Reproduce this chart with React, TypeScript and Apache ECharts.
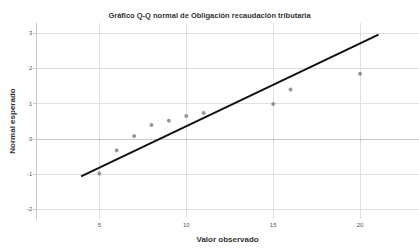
import React, { useEffect, useRef } from "react";
import * as echarts from "echarts";

const titleText = "Gráfico Q-Q normal de Obligación recaudación tributaria";
const xName = "Valor observado";
const yName = "Normal esperado";
const observed = [5, 6, 7, 8, 9, 10, 11, 15, 16, 20];
const expected = [-0.99, -0.33, 0.08, 0.39, 0.51, 0.65, 0.73, 0.99, 1.4, 1.85];
const lineX = [3.95, 21.06];
const lineY = [-1.07, 2.96];
const xTicks = [5, 10, 15, 20];
const yTicks = [-2, -1, 0, 1, 2, 3];

export default function App() {
  const ref = useRef<HTMLDivElement>(null);
  useEffect(() => {
    if (!ref.current) return;
    const chart = echarts.init(ref.current, undefined, { renderer: "svg" });
    const font = "Liberation Sans, Arial, sans-serif";
    chart.setOption({
      animation: false,
      title: {
        text: titleText,
        left: "center",
        top: 7,
        padding: 4,
        textStyle: { fontSize: 7.5, fontWeight: "bold", color: "#333", fontFamily: font },
      },
      grid: { left: 33, right: 0, top: 23, bottom: 23 },
      xAxis: {
        type: "value",
        min: 1.37,
        max: 23.39,
        name: xName,
        nameLocation: "middle",
        nameGap: 16,
        nameTextStyle: { fontSize: 8, fontWeight: "bold", color: "#333", fontFamily: font },
        axisLine: { show: true, lineStyle: { color: "#c8c8c8" } },
        axisTick: { show: true, customValues: xTicks, length: 3, lineStyle: { color: "#c8c8c8" } },
        axisLabel: { customValues: xTicks, fontSize: 6, color: "#555", margin: 3, fontFamily: font },
        splitLine: { show: true, lineStyle: { color: "#e0e0e0" } },
      },
      yAxis: {
        type: "value",
        min: -2.28,
        max: 3.29,
        name: yName,
        nameLocation: "middle",
        nameGap: 18,
        nameTextStyle: { fontSize: 8, fontWeight: "bold", color: "#333", fontFamily: font },
        axisLine: { show: true, lineStyle: { color: "#c8c8c8" } },
        axisTick: { show: true, customValues: yTicks, length: 3, lineStyle: { color: "#c8c8c8" } },
        axisLabel: { customValues: yTicks, fontSize: 6, color: "#555", margin: 4, fontFamily: font },
        splitLine: { show: true, lineStyle: { color: "#e0e0e0" } },
      },
      series: [
        {
          type: "line",
          data: lineX.map((x, i) => [x, lineY[i]]),
          symbol: "none",
          lineStyle: { color: "#111", width: 2 },
          z: 2,
        },
        {
          type: "scatter",
          data: observed.map((x, i) => [x, expected[i]]),
          symbolSize: 4,
          itemStyle: { color: "#808080" },
          z: 3,
        },
      ],
    });
    return () => chart.dispose();
  }, []);
  return (
    <div
      ref={ref}
      style={{ position: "fixed", left: 0, top: 0, width: 419, height: 248, background: "#fff" }}
    />
  );
}
